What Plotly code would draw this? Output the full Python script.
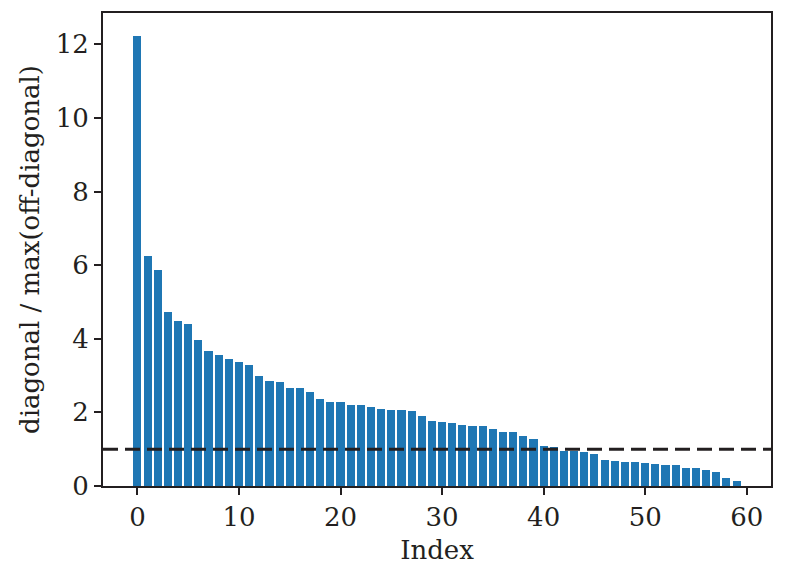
import plotly.graph_objects as go

# ----------- Data -----------
index = list(range(60))
ratio = [12.24, 6.26, 5.88, 4.74, 4.49, 4.39, 3.98, 3.68, 3.56, 3.44,
         3.38, 3.30, 3.00, 2.84, 2.82, 2.65, 2.65, 2.55, 2.36, 2.28,
         2.27, 2.21, 2.20, 2.16, 2.08, 2.07, 2.06, 2.03, 1.91, 1.76,
         1.75, 1.70, 1.67, 1.63, 1.63, 1.56, 1.48, 1.47, 1.37, 1.27,
         1.09, 1.05, 0.96, 0.94, 0.92, 0.88, 0.70, 0.68, 0.66, 0.65,
         0.63, 0.60, 0.58, 0.57, 0.50, 0.49, 0.43, 0.39, 0.23, 0.14]
threshold = 1.0
x_ticks = [0, 10, 20, 30, 40, 50, 60]
y_ticks = [0, 2, 4, 6, 8, 10, 12]

ink = '#231f20'
font_family = 'DejaVu Serif'

# ----------- Figure -----------
fig = go.Figure()
fig.add_trace(go.Bar(
    x=index,
    y=ratio,
    width=0.8,
    marker_color='#1f77b4',
    marker_line_width=0,
    showlegend=False
))

# threshold line across the whole axis
fig.add_hline(y=threshold, line=dict(color=ink, width=3, dash='15px,7px'))

x_range = [-3.39, 62.39]
y_range = [0, max(ratio) * 1.05]

axis_common = dict(
    showline=True, linecolor=ink, linewidth=1.8, mirror=True,
    ticks='outside', ticklen=7, tickwidth=1.6, tickcolor=ink,
    showgrid=False, zeroline=False,
    tickfont=dict(family=font_family, size=26, color=ink),
)

fig.update_xaxes(range=x_range, tickvals=x_ticks,
                 title=dict(text='Index', font=dict(family=font_family, size=26, color=ink), standoff=10),
                 **axis_common)
fig.update_yaxes(range=y_range, tickvals=y_ticks,
                 title=dict(text='diagonal / max(off-diagonal)', font=dict(family=font_family, size=26, color=ink), standoff=9),
                 **axis_common)

fig.update_layout(
    width=786, height=575,
    plot_bgcolor='white',
    paper_bgcolor='white',
    bargap=0,
    margin=dict(l=95, r=23, t=3, b=97),
)

fig.write_html("out.html")
